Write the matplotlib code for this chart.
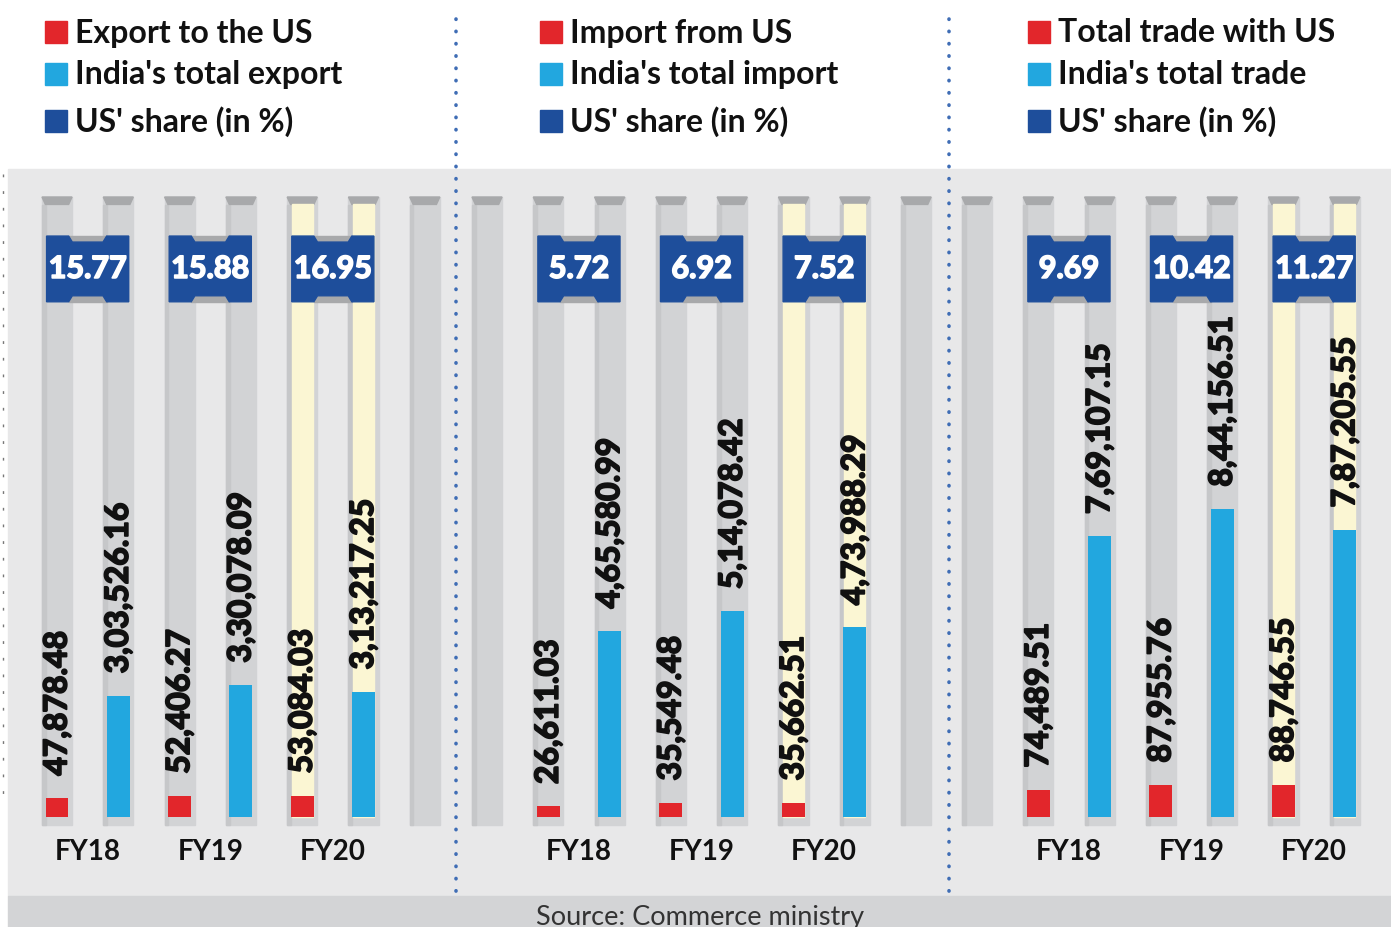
import matplotlib.pyplot as plt
import matplotlib.transforms as mtransforms
import matplotlib.patheffects as pe
from matplotlib.patches import Rectangle, Polygon
from matplotlib.lines import Line2D

plt.rcParams['font.family'] = ['Lato', 'DejaVu Sans']

# data (Rs crore)
years = ['FY18', 'FY19', 'FY20']

export_us = [47878.48, 52406.27, 53084.03]
export_total = [303526.16, 330078.09, 313217.25]
export_share = [15.77, 15.88, 16.95]

import_us = [26611.03, 35549.48, 35662.51]
import_total = [465580.99, 514078.42, 473988.29]
import_share = [5.72, 6.92, 7.52]

trade_us = [74489.51, 87955.76, 88746.55]
trade_total = [769107.15, 844156.51, 787205.55]
trade_share = [9.69, 10.42, 11.27]

legend_1 = ['Export to the US', "India's total export", "US' share (in %)"]
legend_2 = ['Import from US', "India's total import", "US' share (in %)"]
legend_3 = ['Total trade with US', "India's total trade", "US' share (in %)"]

RED = '#e2262b'
BLUE = '#22a7df'
NAVY = '#1e4e9b'
TROUGH = '#d2d3d5'
TROUGH_DK = '#c6c7c9'
CAP = '#a8a9ab'
CREAM = '#fbf6d3'
BG = '#e8e8e9'
STRIP = '#d3d4d6'
DOTS = '#3f6db5'

W, H = 1391, 928
fig = plt.figure(figsize=(W / 100, H / 100), dpi=100)


def fx(p):
    return p / W


def fy(p):
    return 1 - p / H


def inr(v):
    # indian digit grouping: 3,03,526.16
    ip, dp = f'{v:.2f}'.split('.')
    if len(ip) > 3:
        head, tail = ip[:-3], ip[-3:]
        groups = []
        while len(head) > 2:
            groups.insert(0, head[-2:])
            head = head[:-2]
        if head:
            groups.insert(0, head)
        ip = ','.join(groups + [tail])
    return ip + '.' + dp


# backgrounds
fig.patches.append(Rectangle((fx(8), fy(897)), fx(W - 8), (897 - 170) / H,
                             transform=fig.transFigure, color=BG, zorder=-5))
fig.patches.append(Rectangle((fx(8), 0), fx(W - 8), (928 - 897) / H,
                             transform=fig.transFigure, color=STRIP, zorder=-5))
fig.add_artist(Line2D([fx(3), fx(3)], [fy(175), fy(800)], transform=fig.transFigure,
                      color='#777777', lw=1, linestyle=(0, (2, 10))))
for xd in (456, 949):
    fig.add_artist(Line2D([fx(xd), fx(xd)], [fy(20), fy(900)], transform=fig.transFigure,
                          color=DOTS, lw=2.6, linestyle=(0, (0.1, 3.3)),
                          dash_capstyle='round', zorder=5))

panels = [
    dict(us=export_us, tot=export_total, share=export_share, legend=legend_1,
         span=(8, 456), c0=57, nslot=7, start=0, scale=2500, leg_x=45),
    dict(us=import_us, tot=import_total, share=import_share, legend=legend_2,
         span=(456, 949), c0=487, nslot=8, start=1, scale=2500, leg_x=540),
    dict(us=trade_us, tot=trade_total, share=trade_share, legend=legend_3,
         span=(949, 1391), c0=977, nslot=7, start=1, scale=2740, leg_x=1028),
]

SLOT = 61.3
TOP, BOT = 198, 818
leg_rows = [33, 75, 122]
leg_cols = [RED, BLUE, NAVY]
heavy_k = [pe.withStroke(linewidth=1.3, foreground='#111111')]
heavy_w = [pe.withStroke(linewidth=1.2, foreground='white')]

for p in panels:
    l, r = p['span']
    ax = fig.add_axes([fx(l), fy(BOT), (r - l) / W, (BOT - TOP) / H])
    ax.set_xlim((l - p['c0']) / SLOT, (r - p['c0']) / SLOT)
    ax.set_ylim(0, p['scale'] * (BOT - TOP))
    ax.axis('off')
    tr = mtransforms.blended_transform_factory(ax.transData, ax.transAxes)

    # empty troughs
    for k in range(p['nslot']):
        ax.add_patch(Rectangle((k - 0.245, -0.013), 0.49, 1.013, transform=tr,
                               color=TROUGH, clip_on=False, zorder=1))
        ax.add_patch(Rectangle((k - 0.245, -0.013), 0.06, 1.0, transform=tr,
                               color=TROUGH_DK, clip_on=False, zorder=1))
        ax.add_patch(Polygon([(k - 0.245, 1.0), (k + 0.245, 1.0), (k + 0.19, 0.988),
                              (k - 0.19, 0.988)], transform=tr, color=CAP,
                             clip_on=False, zorder=2))

    for j, yr in enumerate(years):
        xr = p['start'] + 2 * j
        xb = xr + 1
        if j == 2:
            for xx in (xr, xb):
                ax.add_patch(Rectangle((xx - 0.17, 0), 0.34, 0.988, transform=tr,
                                       color=CREAM, clip_on=False, zorder=2))
        ax.bar([xr], [p['us'][j]], width=0.375, color=RED, zorder=3)
        ax.bar([xb], [p['tot'][j]], width=0.375, color=BLUE, zorder=3)
        for xx, v in ((xr, p['us'][j]), (xb, p['tot'][j])):
            ax.annotate(inr(v), (xx, v), xytext=(0, 16), textcoords='offset points',
                        rotation=90, ha='center', va='bottom', fontsize=23,
                        fontweight='bold', color='#111111', zorder=4,
                        annotation_clip=False, path_effects=heavy_k)

        # share badge
        xc = xr + 0.5
        b, t, d = 0.831, 0.937, 0.0097
        for yy in (t - d, b):
            ax.add_patch(Rectangle((xc - 0.31, yy), 0.62, d, transform=tr,
                                   color=CAP, clip_on=False, zorder=5))
        ax.add_patch(Polygon([(xc - 0.67, b), (xc - 0.31, b), (xc - 0.25, b + d),
                              (xc + 0.25, b + d), (xc + 0.31, b), (xc + 0.67, b),
                              (xc + 0.67, t), (xc + 0.31, t), (xc + 0.25, t - d),
                              (xc - 0.25, t - d), (xc - 0.31, t), (xc - 0.67, t)],
                             transform=tr, color=NAVY, clip_on=False, zorder=6))
        ax.text(xc, (b + t) / 2, f"{p['share'][j]:.2f}", transform=tr, ha='center',
                va='center', fontsize=22, fontweight='bold', color='white', zorder=7,
                path_effects=heavy_w)
        ax.text(xc, -0.055, yr, transform=tr, ha='center', va='center', fontsize=20,
                fontweight='bold', color='#111111')

    # legend block
    for lab, col, yrow in zip(p['legend'], leg_cols, leg_rows):
        fig.patches.append(Rectangle((fx(p['leg_x']), fy(yrow + 11)), 22 / W, 22 / H,
                                     transform=fig.transFigure, color=col))
        fig.text(fx(p['leg_x'] + 30), fy(yrow), lab, ha='left', va='center',
                 fontsize=23, fontweight='bold', color='#111111')

fig.text(fx(700), fy(918), 'Source: Commerce ministry', ha='center', va='center',
         fontsize=19.5, fontweight='normal', color='#333333')

fig.savefig('out.png', dpi=100)
